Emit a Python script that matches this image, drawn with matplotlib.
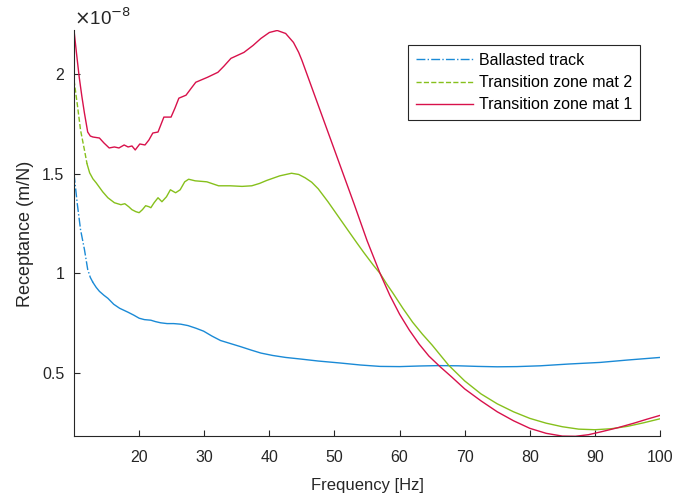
import matplotlib
matplotlib.use('Agg')
import matplotlib.pyplot as plt

plt.rcParams['font.family'] = ['Liberation Sans', 'DejaVu Sans']

# receptance values in units of 1e-8 m/N
freq_ballast = [10.0, 10.5, 11.0, 11.6, 12.1, 12.5, 12.9, 13.4, 13.9, 14.6, 15.2, 16.1, 17.0,
                18.3, 19.2, 20.0, 20.8, 21.8, 22.5, 23.3, 24.3, 25.3, 26.4, 27.5, 28.7, 29.9,
                31.2, 32.5, 34.0, 35.6, 37.2, 38.7, 40.5, 42.5, 44.8, 47.5, 50.9, 54, 57,
                60, 63, 66, 69, 72, 75, 78, 81.6, 86, 90.8, 95, 100]
rec_ballast = [1.50, 1.35, 1.22, 1.12, 1.02, 0.98, 0.955, 0.93, 0.91, 0.89, 0.875, 0.845, 0.825,
               0.805, 0.79, 0.775, 0.768, 0.765, 0.758, 0.752, 0.748, 0.748, 0.745, 0.738, 0.725, 0.71,
               0.685, 0.663, 0.648, 0.632, 0.615, 0.60, 0.588, 0.578, 0.57, 0.56, 0.55, 0.54, 0.533,
               0.532, 0.535, 0.537, 0.536, 0.533, 0.531, 0.532, 0.536, 0.545, 0.553, 0.565, 0.578]

freq_mat2 = [10.0, 10.5, 11.0, 11.6, 12.0, 12.4, 12.9, 13.4, 14.4, 15.2, 16.2, 17.2, 17.8,
             18.4, 18.9, 19.5, 20.0, 20.5, 21.0, 21.5, 21.8, 22.3, 22.9, 23.5, 24.2, 24.8,
             25.6, 26.3, 27.0, 27.6, 28.6, 30.4, 32.2, 34.0, 35.8, 37.3, 38.5, 39.6, 41.6,
             43.4, 44.5, 45.5, 46.5, 47.5, 49.0, 50.5, 52.0, 53.4, 54.5, 56.0, 57.0, 58.0,
             59.0, 60.5, 62.0, 63.5, 65.0, 67.5, 70.0, 72.5, 75.0, 77.5, 80.0, 82.5, 85.0,
             87.5, 90.0, 92.5, 95.0, 97.5, 100]
rec_mat2 = [1.97, 1.85, 1.72, 1.62, 1.55, 1.505, 1.475, 1.455, 1.41, 1.38, 1.355, 1.345, 1.35,
            1.335, 1.32, 1.31, 1.305, 1.32, 1.34, 1.335, 1.33, 1.355, 1.38, 1.36, 1.385, 1.42,
            1.405, 1.42, 1.46, 1.473, 1.465, 1.46, 1.44, 1.44, 1.437, 1.44, 1.452, 1.467, 1.49,
            1.503, 1.497, 1.48, 1.458, 1.425, 1.36, 1.29, 1.22, 1.155, 1.105, 1.04, 1.0, 0.948,
            0.9, 0.825, 0.755, 0.695, 0.64, 0.54, 0.46, 0.395, 0.345, 0.305, 0.272, 0.248, 0.23,
            0.218, 0.215, 0.22, 0.232, 0.25, 0.27]

freq_mat1 = [10.0, 10.4, 10.8, 11.2, 11.6, 12.1, 12.5, 12.9, 13.9, 14.6, 15.4, 16.2, 16.9,
             17.7, 18.3, 18.9, 19.4, 20.1, 20.9, 21.5, 22.1, 22.9, 23.8, 24.9, 25.5, 26.1,
             27.2, 28.0, 28.7, 30.5, 32.1, 33.0, 34.1, 36.1, 37.5, 38.7, 40.0, 41.2, 42.5,
             43.7, 44.5, 45.0, 47.0, 49.0, 51.0, 53.0, 55.0, 57.0, 58.5, 60.0, 61.5, 63.0,
             64.5, 66.2, 68.0, 70.0, 72.5, 75.0, 77.5, 80.0, 82.5, 85.0, 87.0, 89.0, 91.0,
             93.5, 96.0, 98.0, 100]
rec_mat1 = [2.22, 2.10, 1.985, 1.89, 1.805, 1.71, 1.69, 1.685, 1.68, 1.655, 1.63, 1.635, 1.63,
            1.645, 1.635, 1.64, 1.62, 1.65, 1.645, 1.67, 1.705, 1.71, 1.785, 1.785, 1.83, 1.88,
            1.895, 1.93, 1.96, 1.985, 2.01, 2.04, 2.08, 2.11, 2.145, 2.18, 2.21, 2.22, 2.205,
            2.16, 2.11, 2.07, 1.89, 1.71, 1.53, 1.35, 1.165, 1.0, 0.89, 0.795, 0.715, 0.645,
            0.585, 0.532, 0.48, 0.42, 0.36, 0.305, 0.26, 0.222, 0.197, 0.183, 0.182, 0.19, 0.205,
            0.225, 0.248, 0.268, 0.287]

c_blue = '#1a8ad6'
c_green = '#86c01c'
c_red = '#d8114b'
c_axis = '#262626'

fig = plt.figure(figsize=(6.76, 4.98), dpi=100)
ax = fig.add_axes([0.1095, 0.1235, 0.8669, 0.8153])

# start of each curve keeps its line style, the rest looks solid
n_b = 7
ax.plot(freq_ballast[:n_b], rec_ballast[:n_b], '-.', color=c_blue, lw=1.0, label='Ballasted track')
ax.plot(freq_ballast[n_b - 1:], rec_ballast[n_b - 1:], '-', color=c_blue, lw=1.0)
n_g = 5
ax.plot(freq_mat2[:n_g], rec_mat2[:n_g], '--', color=c_green, lw=1.0, label='Transition zone mat 2')
ax.plot(freq_mat2[n_g - 1:], rec_mat2[n_g - 1:], '-', color=c_green, lw=1.0)
ax.plot(freq_mat1, rec_mat1, '-', color=c_red, lw=1.0, label='Transition zone mat 1')

ax.set_xlim(10, 100)
ax.set_ylim(0.181, 2.22)
ax.set_xticks([20, 30, 40, 50, 60, 70, 80, 90, 100])
ax.set_yticks([0.5, 1, 1.5, 2])
ax.set_yticklabels(['0.5', '1', '1.5', '2'])
ax.tick_params(direction='in', length=4, labelsize=11.5, colors=c_axis)
ax.tick_params(axis='x', pad=10)
ax.tick_params(axis='y', pad=7)
for s in ['top', 'right']:
    ax.spines[s].set_visible(False)
for s in ['left', 'bottom']:
    ax.spines[s].set_color(c_axis)
    ax.spines[s].set_linewidth(0.8)

ax.set_xlabel('Frequency [Hz]', fontsize=12, color=c_axis, labelpad=9)
ax.set_ylabel('Receptance (m/N)', fontsize=13, color=c_axis, labelpad=6)
ax.text(0.0, 1.003, r'$\times$10$^{-8}$', transform=ax.transAxes, fontsize=13.5,
        color=c_axis, va='bottom', ha='left')

leg = ax.legend(loc='upper right', bbox_to_anchor=(0.966, 0.964), borderaxespad=0,
                fontsize=11.5, fancybox=False, edgecolor=c_axis, framealpha=1,
                handlelength=3.6, borderpad=0.5, labelspacing=0.45, handletextpad=0.35)
leg.get_frame().set_linewidth(0.8)

fig.savefig('out.png', dpi=100)
